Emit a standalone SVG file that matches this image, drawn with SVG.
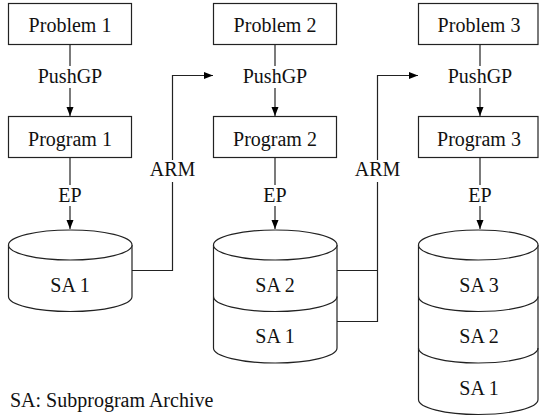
<svg xmlns="http://www.w3.org/2000/svg" width="539" height="420" viewBox="0 0 539 420">
<defs>
<marker id="arr" markerWidth="10" markerHeight="8" refX="9" refY="4" orient="auto" markerUnits="userSpaceOnUse">
<path d="M0,0.5 L9,4 L0,7.5 Z" fill="#000"/>
</marker>
<style>
text{font-family:"Liberation Serif","Times New Roman",serif;font-size:20px;fill:#111;text-anchor:middle}
.box{fill:#fff;stroke:#222;stroke-width:1.2}
.cyl{fill:#fff;stroke:#222;stroke-width:1.2}
.ln{fill:none;stroke:#222;stroke-width:1.2}
</style>
</defs>
<rect width="539" height="420" fill="#fff"/>
<g id="connectors">
<path class="ln" d="M70,44.5 V66"/>
<path class="ln" d="M70,88 V116" marker-end="url(#arr)"/>
<path class="ln" d="M70,157 V185"/>
<path class="ln" d="M70,206 V229" marker-end="url(#arr)"/>
<path class="ln" d="M275,44.5 V66"/>
<path class="ln" d="M275,88 V116" marker-end="url(#arr)"/>
<path class="ln" d="M275,157 V185"/>
<path class="ln" d="M275,206 V229" marker-end="url(#arr)"/>
<path class="ln" d="M480,44.5 V66"/>
<path class="ln" d="M480,88 V116" marker-end="url(#arr)"/>
<path class="ln" d="M480,157 V185"/>
<path class="ln" d="M480,206 V229" marker-end="url(#arr)"/>
<text x="70" y="83">PushGP</text>
<text x="275" y="83">PushGP</text>
<text x="480" y="83">PushGP</text>
<text x="70" y="202">EP</text>
<text x="275" y="202">EP</text>
<text x="480" y="202">EP</text>
<path class="ln" d="M132,270.5 H172.5 V182"/>
<path class="ln" d="M172.5,160 V75.5 H213" marker-end="url(#arr)"/>
<text x="172.5" y="176">ARM</text>
<path class="ln" d="M337,270.5 H377.5 M337,321.5 H377.5 V182"/>
<path class="ln" d="M377.5,160 V75.5 H418" marker-end="url(#arr)"/>
<text x="377.5" y="176">ARM</text>
</g>
<g id="problem1"><rect class="box" x="8.5" y="3.5" width="123" height="41"/><text x="70" y="32">Problem 1</text></g>
<g id="problem2"><rect class="box" x="213.5" y="3.5" width="123" height="41"/><text x="275" y="32">Problem 2</text></g>
<g id="problem3"><rect class="box" x="418.5" y="3.5" width="119.5" height="41"/><text x="479" y="32">Problem 3</text></g>
<g id="program1"><rect class="box" x="8.5" y="116.5" width="123" height="41"/><text x="70" y="145.5">Program 1</text></g>
<g id="program2"><rect class="box" x="213.5" y="116.5" width="123" height="41"/><text x="275" y="145.5">Program 2</text></g>
<g id="program3"><rect class="box" x="418.5" y="116.5" width="119.5" height="41"/><text x="479" y="145.5">Program 3</text></g>
<g id="sa-archive1">
<path class="cyl" d="M8.5,245 V296.5 A61.75,15 0 0 0 132,296.5 V245"/>
<ellipse class="cyl" cx="70.25" cy="245" rx="61.75" ry="15"/>
<text x="70" y="291.5">SA 1</text>
</g>
<g id="sa-archive2">
<path class="cyl" d="M213.5,245 V348 A61.75,15 0 0 0 337,348 V245"/>
<ellipse class="cyl" cx="275.25" cy="245" rx="61.75" ry="15"/>
<path class="ln" d="M213.5,296.5 A61.75,15 0 0 0 337,296.5"/>
<text x="275" y="291.5">SA 2</text>
<text x="275" y="343">SA 1</text>
</g>
<g id="sa-archive3">
<path class="cyl" d="M418.5,245 V399.5 A59.75,15 0 0 0 538,399.5 V245"/>
<ellipse class="cyl" cx="478.25" cy="245" rx="59.75" ry="15"/>
<path class="ln" d="M418.5,296.5 A59.75,15 0 0 0 538,296.5"/>
<path class="ln" d="M418.5,348 A59.75,15 0 0 0 538,348"/>
<text x="479" y="291.5">SA 3</text>
<text x="479" y="343">SA 2</text>
<text x="479" y="394.5">SA 1</text>
</g>
<g id="legend"><text x="10" y="406.5" style="text-anchor:start">SA: Subprogram Archive</text></g>
</svg>
